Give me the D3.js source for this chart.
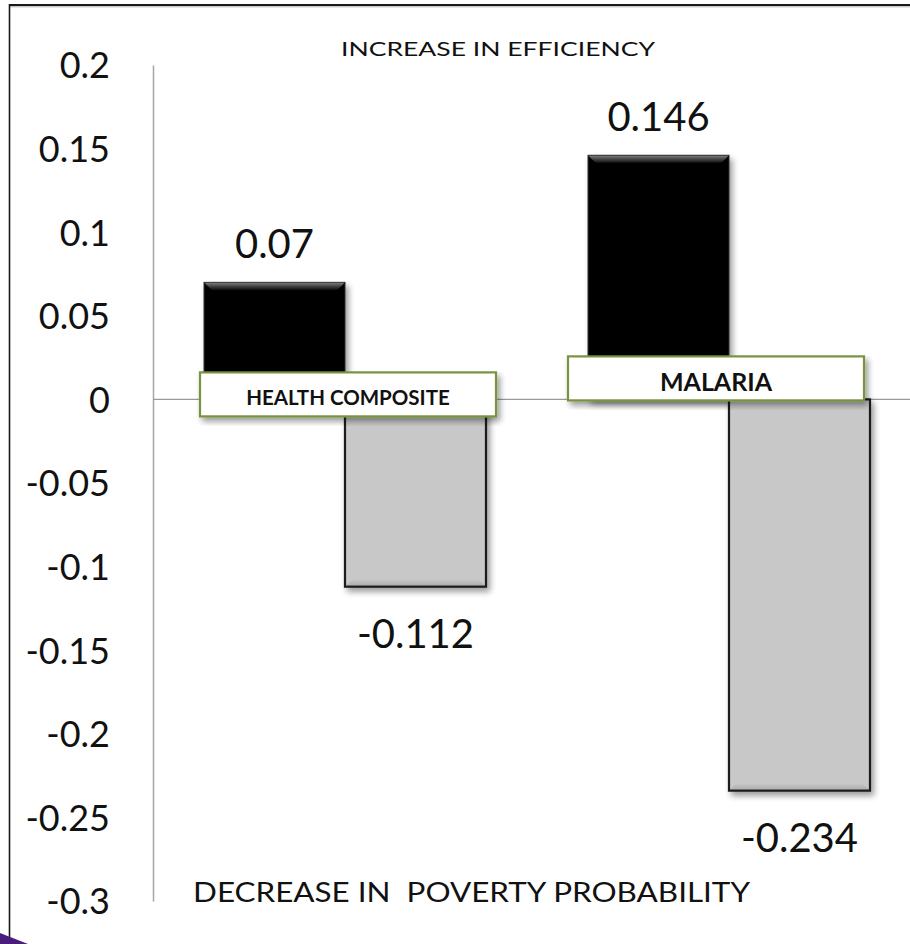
<!DOCTYPE html>
<html>
<head>
<meta charset="utf-8">
<script src="https://cdn.jsdelivr.net/npm/d3@7"></script>
<style>
  html, body { margin: 0; padding: 0; background: #fff; }
  svg { display: block; }
  text { font-family: Lato, "Open Sans", "Noto Sans", sans-serif; fill: #111; }
</style>
</head>
<body>
<svg id="chart" width="910" height="944"></svg>
<script>
// ---- data ----
const categories = ["HEALTH COMPOSITE", "MALARIA"];
const seriesNames = ["efficiency", "poverty"];
const efficiency = [0.07, 0.146];
const poverty = [-0.112, -0.234];
const yTicks = [0.2, 0.15, 0.1, 0.05, 0, -0.05, -0.1, -0.15, -0.2, -0.25, -0.3];
const yTickLabels = ["0.2", "0.15", "0.1", "0.05", "0", "-0.05", "-0.1", "-0.15", "-0.2", "-0.25", "-0.3"];
const valueLabels = [["0.07", "-0.112"], ["0.146", "-0.234"]];
const topTitle = "INCREASE IN EFFICIENCY";
const bottomTitle = "DECREASE IN\u00a0\u00a0POVERTY PROBABILITY";

// ---- layout ----
const svg = d3.select("#chart");
const plotLeft = 153, plotRight = 921, plotTop = 65, plotBottom = 901;

const y = d3.scaleLinear().domain([-0.3, 0.2]).range([plotBottom, plotTop]);
const x = d3.scaleBand().domain(categories).range([plotLeft, plotRight]);
const xs = d3.scaleBand().domain(seriesNames).range([0, x.bandwidth()])
  .paddingInner(0).paddingOuter(0.362);

const defs = svg.append("defs");
const shadow = defs.append("filter").attr("id", "shadow")
  .attr("x", "-10%").attr("y", "-10%").attr("width", "130%").attr("height", "130%");
shadow.append("feGaussianBlur").attr("in", "SourceAlpha").attr("stdDeviation", 3).attr("result", "b");
shadow.append("feOffset").attr("in", "b").attr("dx", 3).attr("dy", 4).attr("result", "o");
shadow.append("feComponentTransfer").attr("in", "o").attr("result", "s")
  .append("feFuncA").attr("type", "linear").attr("slope", 0.4);
const m = shadow.append("feMerge");
m.append("feMergeNode").attr("in", "s");
m.append("feMergeNode").attr("in", "SourceGraphic");

const gTop = defs.append("linearGradient").attr("id", "bevelTop").attr("x1", 0).attr("y1", 0).attr("x2", 0).attr("y2", 1);
gTop.append("stop").attr("offset", 0).attr("stop-color", "#7a7a7a");
gTop.append("stop").attr("offset", 1).attr("stop-color", "#050505");
const gBot = defs.append("linearGradient").attr("id", "bevelBot").attr("x1", 0).attr("y1", 0).attr("x2", 0).attr("y2", 1);
gBot.append("stop").attr("offset", 0).attr("stop-color", "#c9c9c9");
gBot.append("stop").attr("offset", 1).attr("stop-color", "#aaaaaa");

// outer frame
svg.append("line").attr("x1", 9).attr("x2", 910).attr("y1", 5).attr("y2", 5)
  .attr("stroke", "#1a1a1a").attr("stroke-width", 2);
svg.append("line").attr("x1", 9).attr("x2", 910).attr("y1", 6.8).attr("y2", 6.8)
  .attr("stroke", "#b0b0b0").attr("stroke-width", 1);
svg.append("line").attr("x1", 9.5).attr("x2", 9.5).attr("y1", 4).attr("y2", 944)
  .attr("stroke", "#1a1a1a").attr("stroke-width", 1.6);
// corner ribbon
svg.append("path").attr("d", "M0,933 L28,944 L0,944 Z").attr("fill", "#4a1c7c");

// y axis
const yAxis = d3.axisLeft(y).tickValues(yTicks).tickSize(0).tickPadding(0)
  .tickFormat((d, i) => yTickLabels[i]);
const ga = svg.append("g").attr("transform", `translate(${plotLeft},0)`).call(yAxis);
ga.select(".domain").attr("stroke", "#a6a6a6").attr("stroke-width", 1.5);
ga.selectAll(".tick text")
  .attr("x", -43).attr("dy", "0.36em")
  .style("font-family", "Lato, 'Open Sans', sans-serif")
  .style("font-size", "36px").attr("fill", "#111");

// zero baseline
svg.append("line").attr("x1", plotLeft).attr("x2", 910)
  .attr("y1", y(0)).attr("y2", y(0)).attr("stroke", "#9a9a9a").attr("stroke-width", 1.2);

// bars
const rows = categories.map((c, i) => [
  { cat: c, s: "efficiency", v: efficiency[i], label: valueLabels[i][0] },
  { cat: c, s: "poverty", v: poverty[i], label: valueLabels[i][1] }
]).flat();

const bars = svg.append("g").selectAll("g.bar").data(rows).join("g")
  .attr("class", "bar")
  .attr("transform", d => `translate(${x(d.cat) + xs(d.s)},0)`);

bars.each(function (d) {
  const g = d3.select(this);
  const w = xs.bandwidth();
  const y0 = y(Math.max(0, d.v)), y1 = y(Math.min(0, d.v));
  const h = y1 - y0;
  const bev = 8;
  const wrap = g.append("g").attr("filter", "url(#shadow)");
  if (d.v >= 0) {
    wrap.append("rect").attr("x", 0).attr("y", y0).attr("width", w).attr("height", h)
      .attr("fill", "#050505").attr("stroke", "#2a2a2a").attr("stroke-width", 1);
    wrap.append("path")
      .attr("d", `M0.5,${y0 + 0.5} L${w - 0.5},${y0 + 0.5} L${w - bev},${y0 + bev} L${bev},${y0 + bev} Z`)
      .attr("fill", "url(#bevelTop)");
  } else {
    wrap.append("rect").attr("x", 0).attr("y", y0).attr("width", w).attr("height", h)
      .attr("fill", "#c8c8c8");
    wrap.append("path")
      .attr("d", `M0,${y1} L${w},${y1} L${w - bev},${y1 - bev} L${bev},${y1 - bev} Z`)
      .attr("fill", "url(#bevelBot)");
    wrap.append("rect").attr("x", 0).attr("y", y0).attr("width", w).attr("height", h)
      .attr("fill", "none").attr("stroke", "#1a1a1a").attr("stroke-width", 2.2);
  }
  g.append("text")
    .attr("x", w / 2)
    .attr("y", d.v >= 0 ? y(d.v) - 24 : y(d.v) + 61)
    .attr("text-anchor", "middle")
    .style("font-size", "40px")
    .text(d.label);
});

// category label boxes
const boxW = 296, boxH = 44;
const boxPlacement = [
  { dx: 3, top: y(0) - 27, size: 20.5, base: 33 },
  { dx: -13, top: y(0) - 43, size: 25, base: 35 }
];
const boxes = svg.append("g").selectAll("g.catbox").data(categories).join("g")
  .attr("class", "catbox")
  .attr("transform", (d, i) => `translate(${x(d) + x.bandwidth() / 2 + boxPlacement[i].dx - boxW / 2},${boxPlacement[i].top})`);
boxes.append("rect").attr("width", boxW).attr("height", boxH)
  .attr("fill", "#fff").attr("stroke", "#77933c").attr("stroke-width", 2.2)
  .attr("filter", "url(#shadow)");
boxes.append("text")
  .attr("x", boxW / 2).attr("y", (d, i) => boxPlacement[i].base)
  .attr("text-anchor", "middle")
  .style("font-size", (d, i) => boxPlacement[i].size + "px").style("font-weight", "bold")
  .text(d => d);

// axis direction captions
svg.append("text").attr("x", 498).attr("y", 56).attr("text-anchor", "middle")
  .style("font-size", "20px").attr("fill", "#222")
  .attr("textLength", 314).attr("lengthAdjust", "spacingAndGlyphs")
  .text(topTitle);
svg.append("text").attr("x", 193).attr("y", 902)
  .style("font-size", "27px").attr("fill", "#111")
  .attr("textLength", 557).attr("lengthAdjust", "spacingAndGlyphs")
  .text(bottomTitle);
</script>
</body>
</html>
